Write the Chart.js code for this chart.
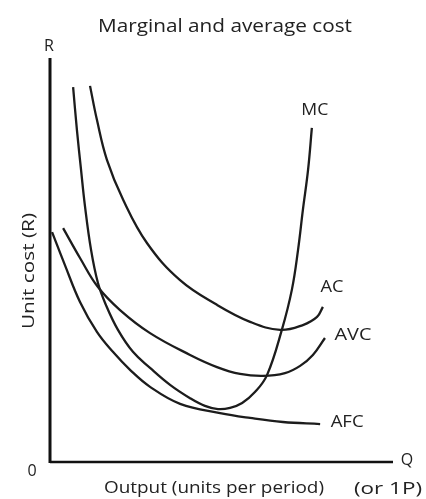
<!DOCTYPE html>
<html lang="en">
<head>
    <meta charset="UTF-8">
    <title>Marginal and average cost</title>
    <script src="https://cdn.jsdelivr.net/npm/chart.js"></script>
    <style>
        html, body { margin: 0; padding: 0; background: #fff; }
        #wrap { width: 426px; height: 499px; }
    </style>
</head>
<body>
<div id="wrap">
    <canvas id="chart1" width="426" height="499"></canvas>
</div>
<script>
// curve labels
var curveNames = ['MC', 'AC', 'AVC', 'AFC'];

// output (x) and unit cost (y), both on a 0-100 scale
var mcOutput  = [6.7, 7.8, 9.0, 10.1, 11.9, 13.9, 16.2, 19.7, 24.1, 29.0, 34.8, 40.6, 44.9, 48.7, 52.2, 55.7, 59.4, 62.9, 67.2, 70.1, 71.9, 73.3, 74.8, 75.9];
var mcCost    = [92.8, 82.2, 72.3, 63.6, 52.5, 44.3, 38.9, 32.7, 27.2, 23.3, 19.1, 15.8, 13.9, 13.1, 13.4, 14.6, 17.3, 21.5, 32.7, 42.6, 52.5, 62.4, 72.3, 82.7];

var acOutput  = [11.6, 13.6, 16.5, 21.2, 28.1, 37.7, 48.4, 58.0, 66.7, 73.3, 77.4, 79.1];
var acCost    = [93.1, 84.7, 74.8, 64.9, 54.2, 45.0, 38.9, 34.7, 32.7, 33.9, 35.9, 38.4];

var avcOutput = [3.8, 8.7, 13.9, 20.3, 29.0, 40.6, 48.4, 55.1, 61.7, 68.1, 72.5, 76.2, 79.7];
var avcCost   = [57.9, 50.5, 43.3, 37.6, 31.9, 26.5, 23.5, 21.8, 21.3, 22.0, 23.8, 26.5, 30.7];

var afcOutput = [0.6, 4.3, 8.7, 13.6, 18.3, 23.2, 29.0, 37.7, 49.3, 58.0, 67.5, 78.3];
var afcCost   = [56.9, 48.8, 39.6, 32.2, 27.2, 22.8, 18.6, 14.4, 12.1, 10.9, 9.9, 9.4];

function toPoints(xs, ys) {
    return xs.map(function (x, i) { return { x: x, y: ys[i] }; });
}

var ink = '#1c1c1c';

// where each curve's name sits, relative to its last point (px), and its width
var labelOffset = { MC: [3, -17, 27], AC: [9, -19, 23], AVC: [28, -3, 37], AFC: [27, -2, 33] };

// draw text at a given centre, stretched to the width it has in the picture
function fitText(ctx, text, cx, cy, w) {
    var m = ctx.measureText(text).width;
    ctx.save();
    ctx.translate(cx, cy);
    ctx.scale(w / m, 1);
    ctx.fillText(text, 0, 0);
    ctx.restore();
}

var textPlugin = {
    id: 'textPlugin',
    afterDraw: function (chart) {
        var ctx = chart.ctx;
        var a = chart.chartArea;
        ctx.save();

        // axes
        ctx.strokeStyle = '#111';
        ctx.lineWidth = 3;
        ctx.beginPath();
        ctx.moveTo(a.left, a.top);
        ctx.lineTo(a.left, a.bottom + 1);
        ctx.stroke();
        ctx.lineWidth = 2.5;
        ctx.beginPath();
        ctx.moveTo(a.left, a.bottom);
        ctx.lineTo(a.right - 2, a.bottom);
        ctx.stroke();

        ctx.fillStyle = '#222';
        ctx.textAlign = 'center';
        ctx.textBaseline = 'middle';

        // title
        ctx.font = '18px "Open Sans"';
        fitText(ctx, 'Marginal and average cost', 225, 27, 254);

        ctx.font = '16px "Open Sans"';
        ctx.fillText('R', a.left - 1, 46);
        ctx.fillText('0', 32, 471);
        ctx.fillText('Q', 407, 460);
        fitText(ctx, 'Output (units per period)', 214, 488, 220);
        fitText(ctx, '(or 1P)', 388, 489, 68);

        ctx.save();
        ctx.translate(29, 271);
        ctx.rotate(-Math.PI / 2);
        fitText(ctx, 'Unit cost (R)', 0, 0, 116);
        ctx.restore();

        // curve names
        chart.data.datasets.forEach(function (ds) {
            var last = ds.data[ds.data.length - 1];
            var off = labelOffset[ds.label];
            var px = chart.scales.x.getPixelForValue(last.x) + off[0];
            var py = chart.scales.y.getPixelForValue(last.y) + off[1];
            fitText(ctx, ds.label, px, py, off[2]);
        });
        ctx.restore();
    }
};

function curve(name, xs, ys) {
    return {
        label: name,
        data: toPoints(xs, ys),
        borderColor: ink,
        borderWidth: 2.3,
        pointRadius: 0,
        fill: false,
        tension: 0.4
    };
}

var ctx = document.getElementById('chart1').getContext('2d');
var costChart = new Chart(ctx, {
    type: 'line',
    data: {
        datasets: [
            curve(curveNames[0], mcOutput, mcCost),
            curve(curveNames[1], acOutput, acCost),
            curve(curveNames[2], avcOutput, avcCost),
            curve(curveNames[3], afcOutput, afcCost)
        ]
    },
    options: {
        responsive: false,
        animation: false,
        layout: { padding: { left: 50, right: 31, top: 58, bottom: 37 } },
        scales: {
            x: { type: 'linear', min: 0, max: 100, display: false },
            y: { type: 'linear', min: 0, max: 100, display: false }
        },
        plugins: {
            legend: { display: false },
            tooltip: { enabled: false }
        }
    },
    plugins: [textPlugin]
});
</script>
</body>
</html>
